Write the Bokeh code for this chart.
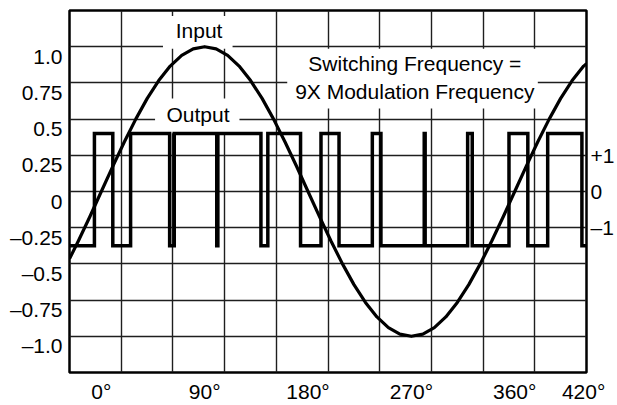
from bokeh.plotting import figure
from bokeh.models import (Label, BoxAnnotation, Grid, FixedTicker, Range1d, LinearAxis)
from bokeh.embed import file_html
from bokeh.resources import INLINE

# ---------------- data ----------------
# input (modulating) signal, sampled along the phase axis (degrees)
phase_deg = [-27.7, -20, -10, 0, 10, 20, 30, 40, 50, 60, 70, 80, 90, 100, 110, 120,
             130, 140, 150, 160, 170, 180, 190, 200, 210, 220, 230, 240, 250, 260,
             270, 280, 290, 300, 310, 320, 330, 340, 350, 360, 370, 380, 390, 400,
             410, 420, 422.5]
input_signal = [-0.465, -0.342, -0.174, 0.0, 0.174, 0.342, 0.5, 0.643, 0.766, 0.866,
                0.94, 0.985, 1.0, 0.985, 0.94, 0.866, 0.766, 0.643, 0.5, 0.342, 0.174,
                0.0, -0.174, -0.342, -0.5, -0.643, -0.766, -0.866, -0.94, -0.985, -1.0,
                -0.985, -0.94, -0.866, -0.766, -0.643, -0.5, -0.342, -0.174, 0.0, 0.174,
                0.342, 0.5, 0.643, 0.766, 0.866, 0.883]

# output (PWM) switching instants in degrees; starts at the low level
switch_deg = [-6, 10, 25.5, 59.5, 63.5, 100.5, 101.5, 139, 145, 173.5, 191.3, 207,
              236, 243.5, 281.2, 282.0, 319, 323, 355, 371.4, 388.7, 418.5]
output_high = 0.4
output_low = -0.375

x_tick_values = [0, 90, 180, 270, 360, 420]
x_tick_labels = ["0°", "90°", "180°", "270°", "360°", "420°"]
y_tick_values = [1.0, 0.75, 0.5, 0.25, 0.0, -0.25, -0.5, -0.75, -1.0]
y_tick_labels = ["1.0", "0.75", "0.5", "0.25", "0", "–0.25", "–0.5", "–0.75", "–1.0"]
right_tick_values = [0.25, 0.0, -0.25]
right_tick_labels = ["+1", "0", "–1"]

x_min, x_max = -27.7, 422.5
y_min, y_max = -1.25, 1.25

# ---------------- build the step trace ----------------
out_x = [x_min]
out_y = [output_low]
level = output_low
for t in switch_deg:
    out_x.append(t)
    out_y.append(level)
    level = output_high if level == output_low else output_low
    out_x.append(t)
    out_y.append(level)
out_x.append(x_max)
out_y.append(level)

FONT = "Liberation Sans"
FS = "21px"

p = figure(width=617, height=405, x_range=Range1d(x_min, x_max),
           y_range=Range1d(y_min, y_max), x_axis_location=None, y_axis_location=None,
           toolbar_location=None, output_backend="svg",
           min_border_left=69, min_border_right=28, min_border_top=10, min_border_bottom=31)
p.background_fill_color = "white"
p.border_fill_color = "white"
p.outline_line_color = "black"
p.outline_line_width = 2.5

# remove default grids, add fixed ones
p.center = [c for c in p.center if not isinstance(c, Grid)]
grid_x = [x_min + (x_max - x_min) * k / 10 for k in range(1, 10)]
p.add_layout(Grid(dimension=0, ticker=FixedTicker(ticks=grid_x),
                  grid_line_color="#1e1e1e", grid_line_width=1.4))
p.add_layout(Grid(dimension=1, ticker=FixedTicker(ticks=y_tick_values),
                  grid_line_color="#1e1e1e", grid_line_width=1.4))


def style_axis(ax, standoff):
    ax.axis_line_color = None
    ax.major_tick_line_color = None
    ax.minor_tick_line_color = None
    ax.major_tick_out = 0
    ax.major_tick_in = 0
    ax.major_label_standoff = standoff
    ax.major_label_text_font = FONT
    ax.major_label_text_font_size = FS
    ax.major_label_text_color = "black"


# left axis: labels sit a little below their grid lines in the reference
label_drop = 0.066
left_ticks = [round(v - label_drop, 4) for v in y_tick_values]
yax = LinearAxis(ticker=FixedTicker(ticks=left_ticks),
                 major_label_overrides=dict(zip(left_ticks, y_tick_labels)))
style_axis(yax, 7)
p.add_layout(yax, "left")

xax = LinearAxis(ticker=FixedTicker(ticks=x_tick_values),
                 major_label_overrides=dict(zip(x_tick_values, x_tick_labels)))
style_axis(xax, 7)
p.add_layout(xax, "below")

rax = LinearAxis(ticker=FixedTicker(ticks=right_tick_values),
                 major_label_overrides=dict(zip(right_tick_values, right_tick_labels)))
style_axis(rax, 4)
p.add_layout(rax, "right")

# white boxes behind annotation texts (cover the grid, under the curves)
for l, r, b, t in [(53.7, 114.3, 0.986, 1.212),
                   (46.8, 120.3, 0.403, 0.643),
                   (161.9, 380.1, 0.574, 0.986)]:
    p.add_layout(BoxAnnotation(left=l, right=r, bottom=b, top=t, fill_color="white",
                               fill_alpha=1.0, line_color=None, level="underlay"))

# curves
p.line(phase_deg, input_signal, line_color="black", line_width=3.2, line_join="round")
p.line(out_x, out_y, line_color="black", line_width=3.5, line_join="miter")

# annotation texts
for x, y, txt in [(85.1, 1.111, "Input"), (84.2, 0.5295, "Output"),
                  (273.0, 0.881, "Switching Frequency ="),
                  (273.0, 0.689, "9X Modulation Frequency")]:
    p.add_layout(Label(x=x, y=y, text=txt, text_align="center", text_baseline="middle",
                       text_font=FONT, text_font_size=FS, text_color="black"))

open("out.html", "w").write(file_html(p, INLINE))
